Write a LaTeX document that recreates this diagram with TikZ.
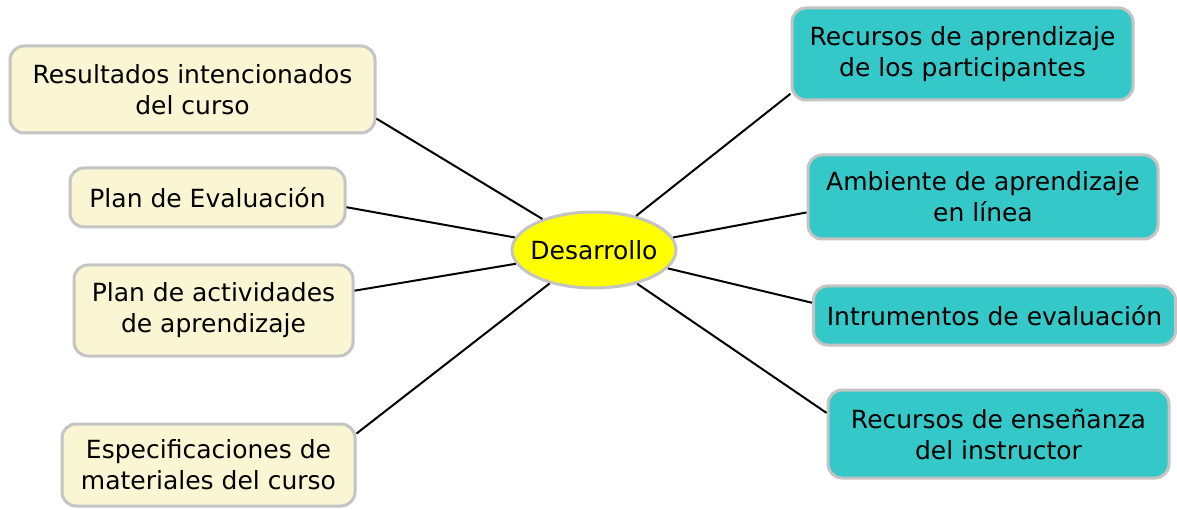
\documentclass[tikz,border=0pt]{standalone}
\usepackage{fontspec}
\setmainfont{DejaVu Sans}
\usepackage{xcolor}
\usepackage{tikz}
\usetikzlibrary{shapes.geometric}

\definecolor{cremita}{RGB}{250,245,210}
\definecolor{turquesa}{RGB}{52,200,200}
\definecolor{amarillo}{RGB}{255,255,0}
\definecolor{borde}{RGB}{196,196,196}

\begin{document}
\begin{tikzpicture}[x=1pt,y=-1pt,
	caja/.style={draw=borde,line width=3pt,rounded corners=14pt,align=center,
		inner sep=2pt,font=\fontsize{25}{31}\selectfont,text=black},
	entrada/.style={caja,fill=cremita},
	salida/.style={caja,fill=turquesa},
	centro/.style={ellipse,draw=borde,line width=3pt,fill=amarillo,inner ysep=0pt,
		inner xsep=-12pt,font=\fontsize{25}{31}\selectfont},
	enlace/.style={line width=2pt,black}]
	%set diagram to the size of the picture
	\useasboundingbox (0,0) rectangle (1177,510);
	
	% Central node
	\node [centro,minimum width=164,minimum height=76] (des) at (594,250) {Desarrollo};
	
	% Left nodes
	\node [entrada,minimum width=365,minimum height=87] (res) at (192.5,89.5) {Resultados intencionados\\del curso};
	\node [entrada,minimum width=275,minimum height=59] (eval) at (207.5,197.5) {Plan de Evaluación};
	\node [entrada,minimum width=279,minimum height=91] (act) at (213.5,310.5) {Plan de actividades\\de aprendizaje};
	\node [entrada,minimum width=293,minimum height=82] (esp) at (208.5,465) {Especificaciones de\\materiales del curso};
	
	% Right nodes
	\node [salida,minimum width=341,minimum height=92] (rec) at (962.5,54) {Recursos de aprendizaje\\de los participantes};
	\node [salida,minimum width=350,minimum height=84] (amb) at (983,197) {Ambiente de aprendizaje\\en línea};
	\node [salida,minimum width=362,minimum height=59] (ins) at (994.5,315.5) {Intrumentos de evaluación};
	\node [salida,minimum width=341,minimum height=88] (ens) at (998.5,434) {Recursos de enseñanza\\del instructor};
	
	% Connectors
	\draw [enlace] (res.-9) -- (des.149);
	\draw [enlace] (eval.-4) -- (des.171);
	\draw [enlace] (act.8) -- (des.190);
	\draw [enlace] (esp.12) -- (des.217);
	\draw [enlace] (rec.193) -- (des.39);
	\draw [enlace] (amb.185) -- (des.9);
	\draw [enlace] (ins.176) -- (des.-14);
	\draw [enlace] (ens.173) -- (des.-38);
	
\end{tikzpicture}
\end{document}
